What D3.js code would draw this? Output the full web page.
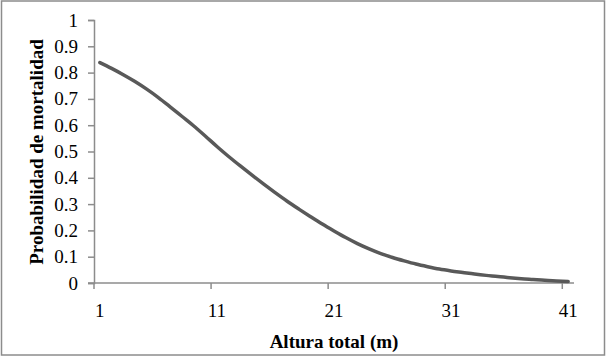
<!DOCTYPE html>
<html>
<head>
<meta charset="utf-8">
<script src="https://cdn.jsdelivr.net/npm/d3@7"></script>
<style>
  body { margin: 0; background: #fff; }
  svg { display: block; font-family: "Liberation Serif", "Times New Roman", serif; }
</style>
</head>
<body>
<div id="chart"></div>
<script>
// datos
const alturas = d3.range(1, 42); // 1..41 m
const probabilidad = [
  0.838, 0.816, 0.792, 0.766, 0.737, 0.705, 0.670, 0.634, 0.598, 0.559,
  0.519, 0.481, 0.445, 0.410, 0.376, 0.343, 0.311, 0.281, 0.252, 0.224,
  0.198, 0.173, 0.150, 0.130, 0.112, 0.097, 0.084, 0.072, 0.062, 0.053,
  0.046, 0.040, 0.034, 0.029, 0.025, 0.020, 0.016, 0.013, 0.010, 0.008,
  0.006
];
const xTicks = [1, 11, 21, 31, 41];
const yTicks = [0, 0.1, 0.2, 0.3, 0.4, 0.5, 0.6, 0.7, 0.8, 0.9, 1];

const width = 607, height = 357;
const mLeft = 94, mRight = 574, mTop = 20, mBottom = 283;

const svg = d3.select('#chart').append('svg')
  .attr('width', width)
  .attr('height', height);

// marco exterior
svg.append('rect')
  .attr('x', 1.5).attr('y', 1)
  .attr('width', 603).attr('height', 354)
  .attr('fill', 'none')
  .attr('stroke', '#8c8c8c')
  .attr('stroke-width', 1.5);

// escalas (eje de categorías tipo Excel)
const x = d3.scaleBand().domain(alturas).range([mLeft, mRight]).padding(0);
const y = d3.scaleLinear().domain([0, 1]).range([mBottom, mTop]);

// eje Y
const yAxis = svg.append('g')
  .attr('transform', `translate(${mLeft},0)`)
  .call(d3.axisLeft(y).tickValues(yTicks).tickSize(6).tickPadding(10)
    .tickFormat(d => d === 0 || d === 1 ? d : d3.format('.1f')(d)));
yAxis.select('.domain').attr('stroke', '#8c8c8c').attr('stroke-width', 1.5);
yAxis.selectAll('.tick line').attr('stroke', '#8c8c8c').attr('stroke-width', 1.5);
yAxis.selectAll('.tick text')
  .attr('font-family', '"Liberation Serif", serif')
  .attr('font-size', 19)
  .attr('fill', '#000');

// eje X
const xg = svg.append('g').attr('transform', `translate(0,${mBottom})`);
xg.append('line')
  .attr('x1', mLeft - 6).attr('x2', mRight)
  .attr('y1', 0).attr('y2', 0)
  .attr('stroke', '#8c8c8c').attr('stroke-width', 1.5);
xg.selectAll('line.tick')
  .data(xTicks)
  .enter().append('line')
  .attr('class', 'tick')
  .attr('x1', d => x(d)).attr('x2', d => x(d))
  .attr('y1', 0).attr('y2', 6)
  .attr('stroke', '#8c8c8c').attr('stroke-width', 1.5);
xg.selectAll('text')
  .data(xTicks)
  .enter().append('text')
  .attr('x', d => x(d) + x.bandwidth() / 2)
  .attr('y', 34)
  .attr('text-anchor', 'middle')
  .attr('font-size', 19)
  .attr('fill', '#000')
  .text(d => d);

// curva
const line = d3.line()
  .x((d, i) => x(alturas[i]) + x.bandwidth() / 2)
  .y(d => y(d))
  .curve(d3.curveMonotoneX);

svg.append('path')
  .datum(probabilidad)
  .attr('d', line)
  .attr('fill', 'none')
  .attr('stroke', '#595959')
  .attr('stroke-width', 3.5)
  .attr('stroke-linecap', 'round');

// títulos
svg.append('text')
  .attr('x', (mLeft + mRight) / 2)
  .attr('y', 348)
  .attr('text-anchor', 'middle')
  .attr('font-size', 19)
  .attr('font-weight', 'bold')
  .attr('fill', '#000')
  .text('Altura total (m)');

svg.append('text')
  .attr('transform', 'translate(43,152) rotate(-90)')
  .attr('text-anchor', 'middle')
  .attr('font-size', 19)
  .attr('font-weight', 'bold')
  .attr('fill', '#000')
  .text('Probabilidad de mortalidad');
</script>
</body>
</html>
